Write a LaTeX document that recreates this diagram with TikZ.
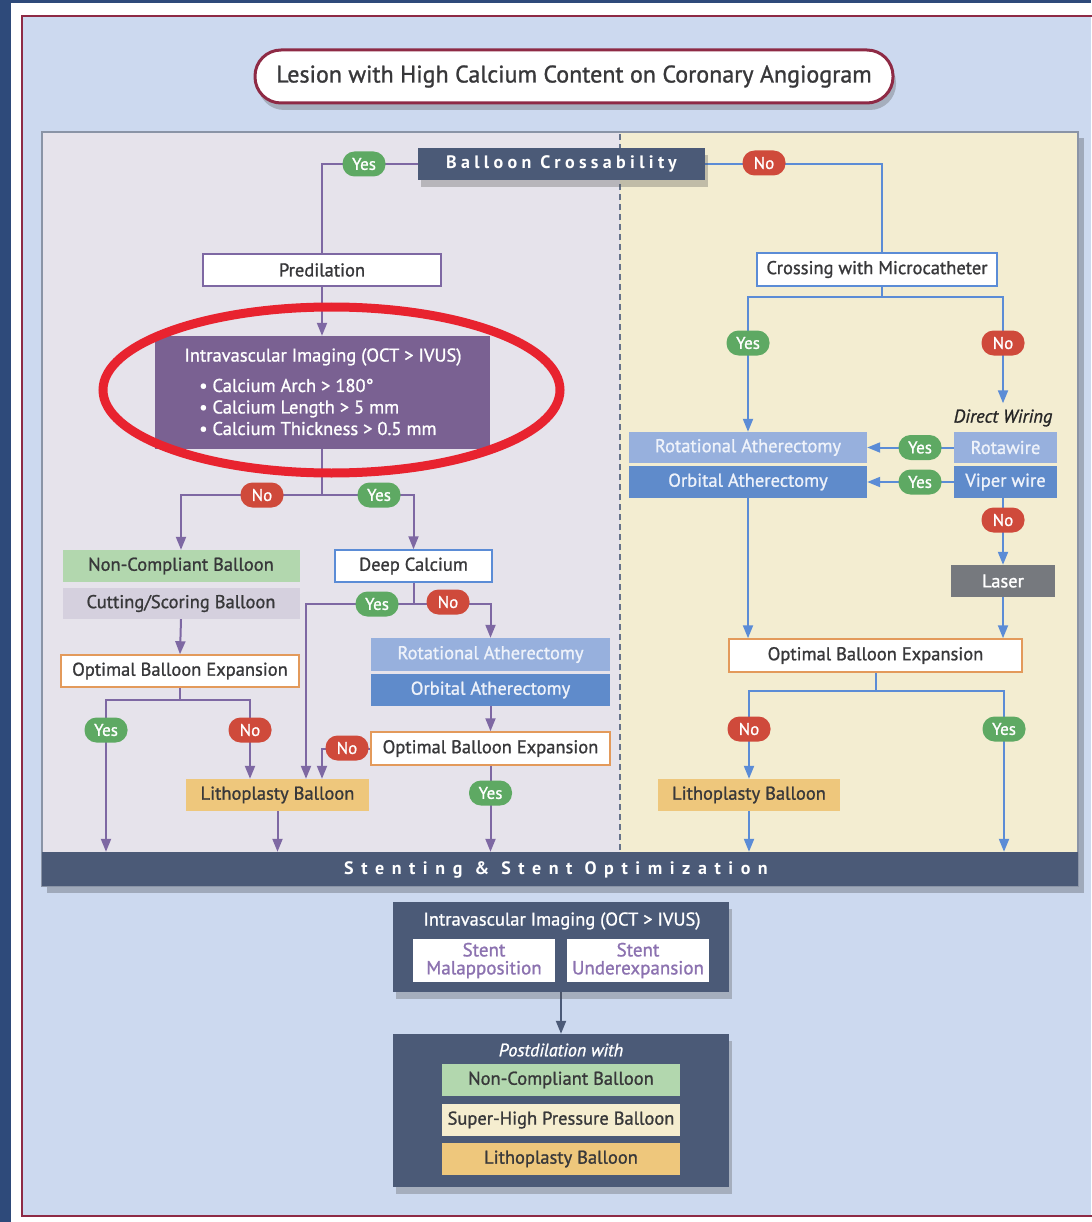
\documentclass[tikz,border=0pt]{standalone}
\usepackage{fontspec}
\setmainfont{PT Sans}
\newfontfamily\medf{PT Sans}[FakeBold=1.1]
\usetikzlibrary{arrows.meta,shapes.geometric,shadows}
\definecolor{navy}{HTML}{2E4A7A}
\definecolor{skyb}{HTML}{CCD9EF}
\definecolor{maroon}{HTML}{8E2A45}
\definecolor{lpanel}{HTML}{E6E3EB}
\definecolor{rpanel}{HTML}{F3EDD1}
\definecolor{slate}{HTML}{4B5A77}
\definecolor{frameg}{HTML}{8A94A6}
\definecolor{pbox}{HTML}{7A6192}
\definecolor{plinec}{HTML}{7E68A3}
\definecolor{blinec}{HTML}{5B8CD6}
\definecolor{gpill}{HTML}{5EA963}
\definecolor{rpill}{HTML}{CF4A3B}
\definecolor{obord}{HTML}{E39A5B}
\definecolor{lithoc}{HTML}{EEC77C}
\definecolor{ncg}{HTML}{B2D7AE}
\definecolor{cutg}{HTML}{D5D0DE}
\definecolor{rotl}{HTML}{97B0DD}
\definecolor{orbb}{HTML}{5F8BCB}
\definecolor{laserg}{HTML}{76797E}
\definecolor{shpc}{HTML}{F5EDCF}
\definecolor{txt}{HTML}{38383A}
\definecolor{ellred}{HTML}{E8232F}
\definecolor{maltx}{HTML}{8C72B0}
\definecolor{lighttx}{HTML}{EEF2FA}
\pgfdeclarelayer{back}
\pgfdeclarelayer{lines}
\pgfsetlayers{back,lines,main}
\begin{document}
\begin{tikzpicture}[x=1pt,y=-1pt,
  every node/.style={font=\medf\fontsize{18.5}{21}\selectfont, text=txt, inner sep=0pt},
  bx/.style={rectangle, minimum height=32pt},
  pill/.style={rectangle, rounded corners=12pt, minimum width=43pt, minimum height=25pt, text=white, font=\medf\fontsize{17}{19}\selectfont},
  ypill/.style={pill, fill=gpill},
  npill/.style={pill, fill=rpill},
  pl/.style={draw=plinec, line width=2pt},
  bl/.style={draw=blinec, line width=2pt},
  parr/.style={pl, -{Triangle[length=13pt,width=10pt]}},
  barr/.style={bl, -{Triangle[length=13pt,width=10pt]}},
  sh/.style={drop shadow={shadow xshift=3pt, shadow yshift=-7pt, opacity=0.3, fill=black!70}},
  spaced/.style={font=\bfseries\fontsize{18}{20}\selectfont\addfontfeatures{LetterSpace=#1}, text=white}
]
\useasboundingbox (0,0) rectangle (1091,1222);
\begin{pgfonlayer}{back}
\fill[white] (0,0) rectangle (1091,1222);
\fill[navy] (0,0) rectangle (11,1222);
\fill[navy] (0,0) rectangle (1091,3);
\fill[skyb] (22,16) rectangle (1091,1216);
\draw[maroon, line width=2.5pt] (1095,16) -- (22,16) -- (22,1216) -- (1095,1216);
\fill[black, opacity=0.22] (47,138) rectangle (1084,893);
\fill[lpanel] (42,132) rectangle (620,852);
\fill[rpanel] (620,132) rectangle (1078,852);
\draw[frameg, line width=2pt] (42,132) rectangle (1078,886);
\draw[slate!85, line width=1.5pt, dash pattern=on 6pt off 4pt] (620,134) -- (620,852);
\end{pgfonlayer}

% title
\node[rectangle, rounded corners=26pt, draw=maroon, line width=3pt, fill=white, sh,
  minimum width=638pt, minimum height=53pt, font=\medf\fontsize{24}{27}\selectfont] (title) at (574,76.5)
  {Lesion with High Calcium Content on Coronary Angiogram};

% bar
\node[fill=slate, minimum width=1036pt, minimum height=34pt] (bar) at (560,869) {};
\node[spaced=42] (bartxt) at (556,870) {Stenting \& Stent Optimization};

% balloon crossability
\node[bx, fill=slate, sh, minimum width=287pt, spaced=24] (bc) at (561.5,164) {Balloon Crossability};

% left side
\node[bx, fill=white, draw=plinec, line width=1.5pt, minimum width=238pt] (pred) at (322,270) {Predilation};
\node[fill=pbox, minimum width=335pt, minimum height=113pt] (ivi) at (322.5,392.5) {};
\node[text=white] (ivit) at (323,357) {Intravascular Imaging (OCT > IVUS)};
\node[text=white, anchor=west, align=left, font=\medf\fontsize{18.5}{21.5}\selectfont] (ivib) at (199,407)
  {• Calcium Arch > 180°\\• Calcium Length > 5 mm\\• Calcium Thickness > 0.5 mm};
\node[ellipse, draw=ellred, line width=9pt, minimum width=457pt, minimum height=166pt] (ring) at (331.5,390) {};

\node[bx, fill=ncg, minimum width=237pt] (nc) at (181,566) {Non-Compliant Balloon};
\node[bx, fill=cutg, minimum width=237pt, minimum height=31pt] (cut) at (181,603.5) {Cutting/Scoring Balloon};
\node[bx, fill=white, draw=obord, line width=1.5pt, minimum width=238pt] (obe1) at (180,671) {Optimal Balloon Expansion};
\node[bx, fill=lithoc, minimum width=183pt] (litho1) at (277.5,795) {Lithoplasty Balloon};
\node[bx, fill=white, draw=blinec, line width=1.5pt, minimum width=157pt] (dc) at (413.5,566) {Deep Calcium};
\node[bx, fill=rotl, minimum width=239pt, minimum height=33pt, text=lighttx] (rot1) at (490.5,654.5) {Rotational Atherectomy};
\node[bx, fill=orbb, minimum width=239pt, text=lighttx] (orb1) at (490.5,690) {Orbital Atherectomy};
\node[bx, fill=white, draw=obord, line width=1.5pt, minimum width=239pt, minimum height=33pt] (obe2) at (490.5,748.5) {Optimal Balloon Expansion};

% right side
\node[bx, fill=white, draw=blinec, line width=1.5pt, minimum width=240pt, minimum height=33pt] (cross) at (877,269.5) {Crossing with Microcatheter};
\node[font=\medf\itshape\fontsize{18.5}{21}\selectfont, text=black!85] (dw) at (1003,418) {Direct Wiring};
\node[bx, fill=rotl, minimum width=238pt, minimum height=31pt, text=lighttx] (rot2) at (748,447.5) {Rotational Atherectomy};
\node[bx, fill=rotl, minimum width=103pt, minimum height=31pt, text=lighttx] (rota) at (1005.5,447.5) {Rotawire};
\node[bx, fill=orbb, minimum width=238pt, text=lighttx] (orb2) at (748,482) {Orbital Atherectomy};
\node[bx, fill=orbb, minimum width=103pt, text=lighttx] (viper) at (1005.5,482) {Viper wire};
\node[bx, fill=laserg, minimum width=104pt, text=white] (laser) at (1003,581) {Laser};
\node[bx, fill=white, draw=obord, line width=1.5pt, minimum width=293pt, minimum height=33pt] (obe3) at (875.5,655.5) {Optimal Balloon Expansion};
\node[bx, fill=lithoc, minimum width=182pt] (litho2) at (749,795) {Lithoplasty Balloon};

% bottom
\node[fill=slate, sh, minimum width=336pt, minimum height=90pt] (ivi2) at (561,947) {};
\node[text=white] (ivi2t) at (562,921) {Intravascular Imaging (OCT > IVUS)};
\node[fill=white, minimum width=142pt, minimum height=43pt, align=center, text=maltx, font=\medf\fontsize{19}{18}\selectfont] (mal) at (484,960.5) {Stent\\Malapposition};
\node[fill=white, minimum width=142pt, minimum height=43pt, align=center, text=maltx, font=\medf\fontsize{19}{18}\selectfont] (und) at (638,960.5) {Stent\\Underexpansion};
\node[fill=slate, sh, minimum width=336pt, minimum height=153pt] (post) at (561,1110.5) {};
\node[text=white, font=\medf\itshape\fontsize{18}{20}\selectfont] (pwith) at (561,1050) {Postdilation with};
\node[bx, fill=ncg, minimum width=238pt] (nc2) at (561,1080) {Non-Compliant Balloon};
\node[bx, fill=shpc, minimum width=238pt] (shp) at (561,1120) {Super-High Pressure Balloon};
\node[bx, fill=lithoc, minimum width=238pt] (litho3) at (561,1159) {Lithoplasty Balloon};

% pills
\node[ypill] (yes1) at (364,164) {Yes};
\node[npill] (no1) at (764,163) {No};
\node[npill] (noA) at (262,495) {No};
\node[ypill] (yesA) at (379,495) {Yes};
\node[ypill] (yesB) at (106,730) {Yes};
\node[npill] (noB) at (250,730) {No};
\node[ypill] (yesC) at (377,604) {Yes};
\node[npill] (noC) at (448,602) {No};
\node[npill] (noD) at (347,748) {No};
\node[ypill] (yesD) at (490.5,793) {Yes};
\node[ypill] (yesE) at (748,343) {Yes};
\node[npill] (noE) at (1003,343) {No};
\node[ypill] (yesF) at (920,447.5) {Yes};
\node[ypill] (yesG) at (920,482) {Yes};
\node[npill] (noH) at (1003,520) {No};
\node[npill] (noI) at (749,729) {No};
\node[ypill] (yesI) at (1004,729) {Yes};

\coordinate (jA) at (322,495);
\coordinate (jB) at (180,700);
\coordinate (jC) at (413.5,604);
\coordinate (jE) at (882,297);
\coordinate (jI) at (875.5,691);

\begin{pgfonlayer}{lines}
% left
\draw[pl] (bc.west) -| (pred.north);
\draw[parr] (pred.south) -- (ivi.north -| pred.south);
\draw[pl] (ivi.south -| jA) -- (jA);
\draw[parr] (jA) -| (nc.north);
\draw[parr] (jA) -| (dc.north);
\draw[parr] (cut.south) -- (obe1.north);
\draw[pl] (obe1.south) -- (jB);
\draw[parr] (jB) -| (yesB.center) -- (yesB |- bar.north);
\draw[parr] (jB) -| (noB.center) -- (noB |- litho1.north);
\draw[parr] (litho1.south) -- (litho1.south |- bar.north);
\draw[pl] (dc.south) -- (jC);
\draw[parr] (jC) -| ([xshift=28.5pt]litho1.north);
\draw[parr] (jC) -| (rot1.north);
\draw[parr] (orb1.south) -- (obe2.north);
\draw[parr] (obe2.west) -| ([xshift=44.5pt]litho1.north);
\draw[parr] (obe2.south) -- (obe2.south |- bar.north);
% right
\draw[bl] (bc.east) -| ([xshift=5pt]cross.north);
\draw[bl] ([xshift=5pt]cross.south) -- (jE);
\draw[barr] (jE) -| (rot2.north);
\draw[barr] (jE) -| ([yshift=6pt]dw.north);
\draw[barr] (rota.west) -- (rot2.east);
\draw[barr] (viper.west) -- (orb2.east);
\draw[barr] (laser.north |- viper.south) -- (laser.north);
\draw[barr] (laser.south) -- (laser.south |- obe3.north);
\draw[barr] (orb2.south) -- (orb2.south |- obe3.north);
\draw[bl] (obe3.south) -- (jI);
\draw[barr] (jI) -| (litho2.north);
\draw[barr] (jI) -| (yesI.center) -- (yesI |- bar.north);
\draw[barr] (litho2.south) -- (litho2.south |- bar.north);
% bottom
\draw[draw=slate, line width=2pt, -{Triangle[length=13pt,width=10pt]}] (ivi2.south) -- (post.north);
\end{pgfonlayer}
\end{tikzpicture}
\end{document}
